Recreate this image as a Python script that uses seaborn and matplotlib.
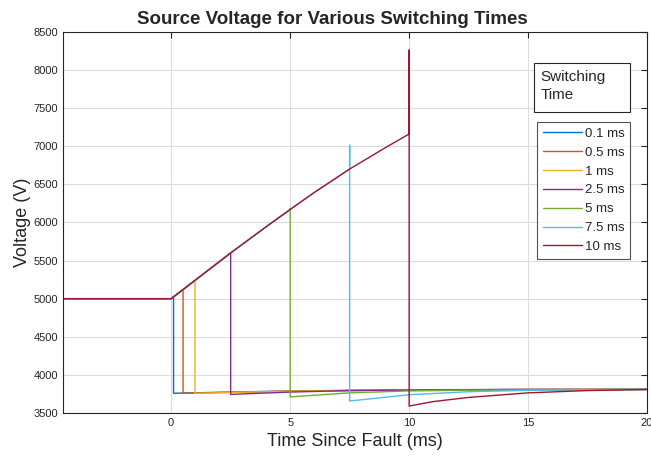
import numpy as np
import pandas as pd
import matplotlib
matplotlib.use("Agg")
import matplotlib.pyplot as plt
from matplotlib.patches import Rectangle
import seaborn as sns

# -------------------------------
# 1. Values
# -------------------------------
switch_labels = ["0.1 ms", "0.5 ms", "1 ms", "2.5 ms", "5 ms", "7.5 ms", "10 ms"]
switch_times = [0.1, 0.5, 1.0, 2.5, 5.0, 7.5, 10.0]
colors = ["#0072BD", "#D95319", "#EDB120", "#7E2F8E", "#77AC30", "#4DBEEE", "#A2142F"]

# pre-fault level and the common rising curve before switching
prefault_t = [-4.5, 0.0]
prefault_v = [5000, 5000]
rise_t = [0.0, 0.1, 0.5, 1.0, 2.5, 4.0, 5.0, 6.0, 7.5, 9.0, 10.0]
rise_v = [5000, 5025, 5120, 5240, 5600, 5945, 6170, 6390, 6700, 6980, 7160]

# peak reached at the switching instant (spike)
spike_v = [5025, 5120, 5240, 5600, 6180, 7010, 8260]

# recovery after switching: (time, voltage) points per series
recovery_t = [
    [0.1, 2.5, 5.0, 10.0, 15.0, 20.0],
    [0.5, 2.5, 5.0, 10.0, 15.0, 20.0],
    [1.0, 2.5, 5.0, 10.0, 15.0, 20.0],
    [2.5, 5.0, 7.5, 10.0, 15.0, 20.0],
    [5.0, 7.5, 10.0, 12.5, 15.0, 20.0],
    [7.5, 10.0, 12.5, 15.0, 17.5, 20.0],
    [10.0, 11.0, 12.5, 15.0, 17.5, 20.0],
]
recovery_v = [
    [3760, 3775, 3790, 3805, 3810, 3810],
    [3760, 3772, 3788, 3803, 3810, 3810],
    [3758, 3770, 3787, 3802, 3809, 3810],
    [3745, 3775, 3795, 3802, 3808, 3810],
    [3712, 3765, 3790, 3800, 3806, 3810],
    [3658, 3740, 3780, 3798, 3806, 3810],
    [3592, 3650, 3705, 3765, 3795, 3810],
]

# -------------------------------
# 2. Build long-form table
# -------------------------------
rows = []
for i, lab in enumerate(switch_labels):
    ts = switch_times[i]
    for t, v in zip(prefault_t, prefault_v):
        rows.append((lab, t, v))
    for t, v in zip(rise_t, rise_v):
        if 0 < t <= ts:
            rows.append((lab, t, v))
    rows.append((lab, ts, spike_v[i]))
    for t, v in zip(recovery_t[i], recovery_v[i]):
        rows.append((lab, t, v))
df = pd.DataFrame(rows, columns=["Switching Time", "time", "voltage"])

# -------------------------------
# 3. Plot
# -------------------------------
sns.set_style("white")
plt.rcParams["font.family"] = ["Liberation Sans", "DejaVu Sans"]

fig = plt.figure(figsize=(6.51, 4.61), dpi=100)
ax = fig.add_axes([0.097, 0.104, 0.897, 0.827])

sns.lineplot(data=df, x="time", y="voltage", hue="Switching Time",
             hue_order=switch_labels, palette=colors, units="Switching Time",
             estimator=None, sort=False, linewidth=1.0, ax=ax, legend=True)

ax.set_xlim(-4.54, 20)
ax.set_ylim(3500, 8500)
ax.set_xticks([0, 5, 10, 15, 20])
ax.set_yticks(np.arange(3500, 8501, 500))
ax.grid(True, color="#dcdcdc", linewidth=0.8)
ax.tick_params(direction="in", length=4, labelsize=8, color="#262626",
               labelcolor="#262626", top=True, right=True)
for s in ax.spines.values():
    s.set_color("#262626")
    s.set_linewidth(0.8)

fig.text(0.51, 0.958, "Source Voltage for Various Switching Times",
         fontsize=13.5, fontweight="bold", ha="center", va="center")
ax.set_xlabel("Time Since Fault (ms)", fontsize=13, color="#262626", labelpad=4)
ax.set_ylabel("Voltage (V)", fontsize=13, color="#262626", labelpad=2)

leg = ax.legend(loc="upper left", bbox_to_anchor=(0.812, 0.764, 0.159, 0.0),
                mode="expand", fontsize=9.5, frameon=True, fancybox=False,
                edgecolor="#262626", handlelength=2.9, handletextpad=0.25,
                labelspacing=0.5, borderpad=0.45, borderaxespad=0)
leg.get_frame().set_linewidth(0.8)

# separate box holding the legend title
ax.add_patch(Rectangle((0.8065, 0.790), 0.1645, 0.1285, transform=ax.transAxes,
                       facecolor="white", edgecolor="#262626", linewidth=0.8,
                       zorder=5))
ax.text(0.818, 0.900, "Switching\nTime", transform=ax.transAxes, fontsize=11,
        va="top", ha="left", linespacing=1.35, zorder=6)

fig.savefig("out.png", dpi=100)
